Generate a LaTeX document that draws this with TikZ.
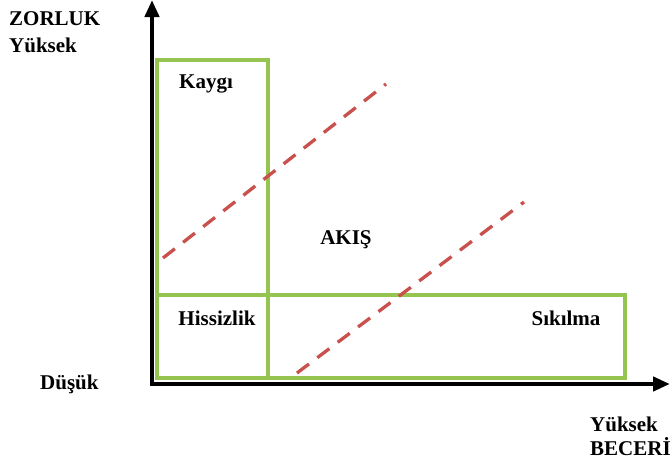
\documentclass[tikz,border=0pt]{standalone}
\usepackage{fontspec}
\setmainfont{Liberation Serif}
\usetikzlibrary{arrows.meta}
\definecolor{boxgreen}{RGB}{150,196,80}
\definecolor{flowred}{RGB}{200,80,77}
\begin{document}
\begin{tikzpicture}[x=1pt,y=-1pt,
  axis/.style={line width=4.5pt,-{Triangle[length=17pt,width=14pt]}},
  zone/.style={draw=boxgreen,line width=3.3pt},
  channel/.style={draw=flowred,line width=3.3pt,dash pattern=on 15pt off 10.5pt},
  lbl/.style={font=\bfseries\fontsize{21}{24}\selectfont,inner sep=0pt}]
\useasboundingbox (0,0) rectangle (670,461);
% axes
\coordinate (origin) at (152,384);
\coordinate (ytop) at (152,0);
\coordinate (xend) at (670,384);
% zones
\draw[zone] (157,60) rectangle (268,378);
\draw[zone] (157,295) rectangle (625,378);
% flow channel boundaries
\coordinate (a1) at (163,258);
\coordinate (a2) at (386,84);
\coordinate (b1) at (297,373);
\coordinate (b2) at (524,202);
\draw[channel] (a1) -- (a2);
\draw[channel] (b1) -- (b2);
\draw[axis] (origin) -- (ytop);
\draw[axis] ([xshift=-2pt]origin) -- (xend);
% labels
\node[lbl,anchor=west] (zor) at (9,19) {ZORLUK};
\node[lbl,anchor=west] (yy) at (9,45) {Yüksek};
\node[lbl] (kaygi) at (206,84) {Kaygı};
\node[lbl] (akis) at (346,240) {AKIŞ};
\node[lbl] (hiss) at (217,318) {Hissizlik};
\node[lbl] (sik) at (566,318) {Sıkılma};
\node[lbl,anchor=west] (dusuk) at (40,384) {Düşük};
\node[lbl,anchor=west] (xy) at (590,424) {Yüksek};
\node[lbl,anchor=west] (bec) at (590,447) {BECERİ};
\end{tikzpicture}
\end{document}
